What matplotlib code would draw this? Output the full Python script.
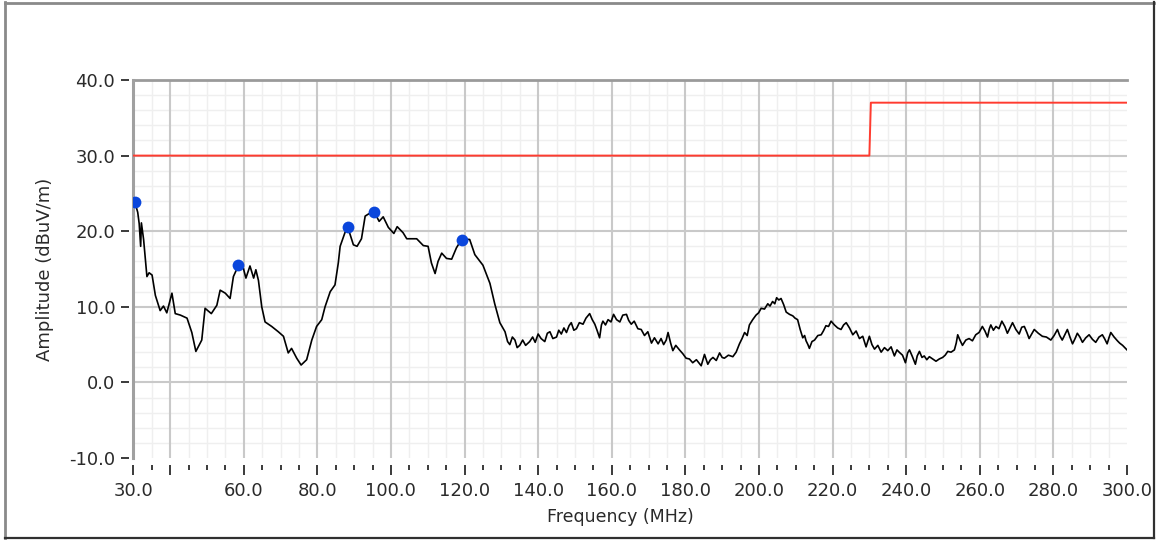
import matplotlib
matplotlib.use('Agg')
import matplotlib.pyplot as plt
from matplotlib.lines import Line2D
from matplotlib.ticker import FixedLocator, MultipleLocator

# ---- data ----
freq = [30.0, 30.5, 31.2, 31.6, 32.0, 32.2, 32.8, 33.7, 34.3, 35.1, 36.0, 37.3, 38.2, 39.1,
        40.5, 41.4, 42.8, 44.6, 45.9, 47.0, 48.6, 49.5, 51.2, 52.7, 53.6, 55.0, 56.3, 57.2,
        58.5, 59.9, 60.6, 61.7, 62.7, 63.3, 64.0, 64.9, 65.8, 67.6, 69.4, 70.8, 72.1, 73.0,
        74.4, 75.6, 77.1, 78.5, 79.8, 81.2, 82.1, 83.5, 84.8, 85.7, 86.2, 87.5, 88.3, 89.8,
        90.8, 92.0, 93.0, 94.0, 95.3, 96.8, 97.9, 99.3, 100.8, 101.7, 103.3, 104.3, 107.0,
        108.8, 110.1, 111.0, 112.0, 112.8, 113.8, 115.1, 116.5, 117.8, 119.3, 121.4, 122.8,
        125.0, 126.9, 128.2, 129.6,
        131.0, 131.7, 132.3, 133.0, 133.7, 134.3, 135.0, 135.8, 136.6, 137.7, 138.5, 139.2,
        140.0, 140.8, 141.8, 142.5, 143.2, 144.0, 145.0, 145.6, 146.3, 147.0, 147.7, 148.4,
        149.0, 149.7, 150.4, 151.2, 152.2, 153.0, 154.0, 154.7, 155.4, 156.0, 156.7, 157.2,
        157.6, 158.3, 159.0, 159.8, 160.5, 161.3, 162.2, 163.0, 164.0, 164.6, 165.3, 166.1,
        167.1, 168.0, 168.9, 169.8, 170.8, 171.6, 172.6, 173.4, 174.1, 174.8, 175.3, 176.0,
        176.6, 177.4, 178.4, 179.3, 180.2, 181.1, 182.0, 183.0, 184.3, 185.2, 186.1, 186.8,
        187.5, 188.4, 189.3, 190.0, 190.6, 191.7, 192.9, 193.8, 194.7, 195.4, 196.1, 196.8,
        197.4, 198.3, 199.2, 199.9, 200.6, 201.5, 202.4, 203.0, 203.7, 204.3, 204.8, 205.4,
        206.0, 206.7, 207.4, 208.3, 209.2, 209.8, 210.5, 211.2, 211.9, 212.4, 212.8, 213.3,
        213.7, 214.4, 215.1, 216.0, 216.9, 217.5, 218.2, 218.9, 219.6, 220.5, 221.4, 222.3,
        223.0, 223.7, 224.6, 225.5, 226.4, 227.3, 228.2, 229.1, 229.6, 230.0, 230.7, 231.4,
        232.3, 233.2, 234.1, 235.0, 235.9, 236.8, 237.5, 238.1, 239.0, 239.8, 240.4, 240.9,
        241.7, 242.5, 243.0, 243.6, 244.3, 244.9, 245.6, 246.3, 247.2, 248.1, 249.0, 249.9,
        250.6, 251.3, 252.2, 253.1, 253.6, 254.0, 254.6, 255.3, 256.2, 257.1, 258.0, 258.9,
        259.8, 260.7, 261.4, 262.1, 262.6, 263.0, 263.7, 264.4, 265.2, 266.0, 266.8, 267.5,
        268.2, 268.9, 269.8, 270.7, 271.4, 272.1, 272.8, 273.4, 274.1, 274.8, 275.9, 277.0,
        278.1, 279.3, 280.2, 281.1, 281.7, 282.4, 283.1, 283.8, 284.5, 285.2, 285.9, 286.5,
        287.2, 287.9, 288.8, 289.7, 290.6, 291.5, 292.4, 293.3, 294.0, 294.6, 295.1, 295.6,
        296.5, 297.4, 298.0, 298.8, 299.6, 300.0]
amp = [23.8, 23.7, 22.5, 21.0, 18.0, 21.1, 18.9, 14.0, 14.5, 14.2, 11.5, 9.5, 10.1, 9.2,
       11.8, 9.1, 8.9, 8.5, 6.6, 4.1, 5.6, 9.8, 9.1, 10.2, 12.2, 11.8, 11.1, 14.0,
       15.4, 15.1, 13.8, 15.4, 13.8, 14.9, 13.5, 10.0, 8.0, 7.4, 6.7, 6.1, 3.9, 4.5,
       3.2, 2.3, 3.0, 5.6, 7.4, 8.3, 10.0, 12.0, 12.9, 15.8, 18.0, 19.8, 20.5, 18.2,
       18.0, 19.0, 22.0, 22.3, 22.7, 21.3, 21.9, 20.5, 19.7, 20.6, 19.8, 19.0, 19.0,
       18.1, 18.0, 15.8, 14.4, 16.0, 17.1, 16.4, 16.3, 17.8, 19.0, 18.9, 16.9,
       15.5, 13.1, 10.4, 7.9,
       6.7, 5.4, 5.0, 6.0, 5.6, 4.6, 4.9, 5.6, 4.9, 5.4, 6.0, 5.3,
       6.4, 5.8, 5.4, 6.5, 6.7, 5.8, 6.0, 6.9, 6.4, 7.2, 6.6, 7.5,
       7.9, 6.9, 7.1, 7.9, 7.7, 8.5, 9.1, 8.3, 7.7, 6.9, 5.9, 7.6,
       8.1, 7.6, 8.3, 8.0, 9.0, 8.3, 8.0, 8.9, 9.0, 8.2, 7.7, 8.1,
       7.1, 7.0, 6.2, 6.7, 5.2, 5.9, 5.1, 5.8, 5.0, 5.6, 6.6, 5.2,
       4.2, 4.9, 4.3, 3.8, 3.2, 3.1, 2.6, 3.0, 2.2, 3.7, 2.4, 3.0,
       3.3, 2.9, 3.9, 3.3, 3.2, 3.6, 3.4, 4.0, 5.1, 5.8, 6.6, 6.2,
       7.6, 8.3, 8.9, 9.2, 9.8, 9.7, 10.4, 10.1, 10.7, 10.4, 11.2, 10.9,
       11.1, 10.3, 9.3, 9.0, 8.8, 8.5, 8.3, 7.0, 5.9, 6.2, 5.5, 5.0,
       4.5, 5.4, 5.6, 6.2, 6.3, 6.8, 7.5, 7.4, 8.1, 7.6, 7.2, 7.0,
       7.6, 7.9, 7.2, 6.3, 6.8, 5.8, 6.1, 4.7, 5.5, 6.1, 5.0, 4.4,
       4.9, 4.0, 4.6, 4.2, 4.7, 3.5, 4.3, 4.0, 3.6, 2.6, 3.9, 4.3,
       3.4, 2.4, 3.5, 4.1, 3.3, 3.5, 3.0, 3.4, 3.1, 2.8, 3.1, 3.3,
       3.6, 4.1, 4.0, 4.3, 5.2, 6.3, 5.6, 4.9, 5.6, 5.8, 5.5, 6.3,
       6.6, 7.4, 6.8, 6.0, 7.1, 7.6, 6.9, 7.4, 7.1, 8.1, 7.4, 6.5,
       7.2, 7.9, 7.0, 6.4, 7.3, 7.4, 6.6, 5.8, 6.4, 7.0, 6.5, 6.1,
       6.0, 5.6, 6.2, 7.0, 6.2, 5.6, 6.3, 7.0, 6.0, 5.1, 5.8, 6.5,
       6.0, 5.3, 5.9, 6.3, 5.7, 5.3, 6.0, 6.3, 5.7, 5.1, 5.9, 6.6,
       6.0, 5.5, 5.2, 4.9, 4.5, 4.3]

limit_freq = [30.0, 230.0, 230.4, 300.0]
limit_amp = [30.0, 30.0, 37.0, 37.0]

peak_freq = [30.5, 58.5, 88.3, 95.3, 119.3]
peak_amp = [23.8, 15.5, 20.5, 22.6, 18.9]

xtick_values = [30, 40, 60, 80, 100, 120, 140, 160, 180, 200, 220, 240, 260, 280, 300]
xtick_labels = ['30.0', '', '60.0', '80.0', '100.0', '120.0', '140.0', '160.0', '180.0',
                '200.0', '220.0', '240.0', '260.0', '280.0', '300.0']
ytick_values = [-10, 0, 10, 20, 30, 40]
ytick_labels = ['-10.0', '0.0', '10.0', '20.0', '30.0', '40.0']

# ---- figure ----
W, H = 1157, 540
fig = plt.figure(figsize=(W / 100, H / 100), dpi=100)
fig.patch.set_facecolor('white')
L, R, T, B = 133.3, 1127.0, 80.0, 458.0
ax = fig.add_axes([L / W, 1 - B / H, (R - L) / W, (B - T) / H])
ax.set_xlim(30, 300)
ax.set_ylim(-10, 40)

txt = '#2a2a2a'
fs = 13

# grid (drawn manually so the outer edges stay clean)
for v in range(35, 300, 5):
    if v not in xtick_values:
        ax.axvline(v, color='#efefef', lw=1.0, zorder=0)
for v in range(-8, 40, 2):
    if v % 10:
        ax.axhline(v, color='#efefef', lw=1.0, zorder=0)
for v in xtick_values[1:-1]:
    ax.axvline(v, color='#c9c9c9', lw=1.5, zorder=1)
for v in ytick_values[1:-1]:
    ax.axhline(v, color='#c9c9c9', lw=1.5, zorder=1)

# visible left border of plot area
ax.axvline(30, color='#a0a0a0', lw=2.2, zorder=3, clip_on=False)

# data
ax.plot(limit_freq, limit_amp, color='#ff3b2f', lw=1.4, zorder=4)
ax.plot(freq, amp, color='black', lw=1.2, zorder=5)
ax.plot(peak_freq, peak_amp, 'o', color='#0a46dc', markersize=8.5, zorder=6,
        markeredgewidth=0)

# spines
ax.spines['top'].set_color('#9a9a9a')
ax.spines['top'].set_linewidth(2.0)
ax.spines['right'].set_visible(False)
ax.spines['bottom'].set_position(('outward', 5))
ax.spines['bottom'].set_color('none')
ax.spines['left'].set_position(('outward', 3))
ax.spines['left'].set_color('none')

# ticks
ax.xaxis.set_major_locator(FixedLocator(xtick_values))
ax.set_xticklabels(xtick_labels)
ax.xaxis.set_minor_locator(MultipleLocator(5))
ax.yaxis.set_major_locator(FixedLocator(ytick_values))
ax.set_yticklabels(ytick_labels)
ax.tick_params(axis='x', which='major', length=7, width=1.4, color='#3a3a3a',
               direction='out', pad=5, labelsize=fs, labelcolor=txt)
ax.tick_params(axis='x', which='minor', length=3.5, width=1.4, color='#3a3a3a',
               direction='out')
ax.tick_params(axis='y', which='major', length=6, width=1.4, color='#3a3a3a',
               direction='out', pad=4, labelsize=fs, labelcolor=txt)

ax.set_xlabel('Frequency (MHz)', fontsize=12.5, color=txt)
ax.set_ylabel('Amplitude (dBuV/m)', fontsize=13, color=txt)
ax.xaxis.set_label_coords((620 - L) / (R - L), -(517 - B) / (B - T))
ax.xaxis.label.set_va('center')
ax.yaxis.set_label_coords((45 - L) / (R - L), 0.5)
ax.yaxis.label.set_va('center')

# outer frame
def px_line(x0, y0, x1, y1, color, lw):
    fig.add_artist(Line2D([x0 / W, x1 / W], [1 - y0 / H, 1 - y1 / H],
                          transform=fig.transFigure, color=color, lw=lw))

px_line(5.5, 2, 5.5, 538, '#8a8a8a', 2.0)
px_line(5, 2.5, 1154, 2.5, '#8a8a8a', 2.0)
px_line(1153.5, 2, 1153.5, 538, '#303030', 1.6)
px_line(5, 537.5, 1154, 537.5, '#303030', 1.6)

fig.savefig('out.png', dpi=100, facecolor='white')
